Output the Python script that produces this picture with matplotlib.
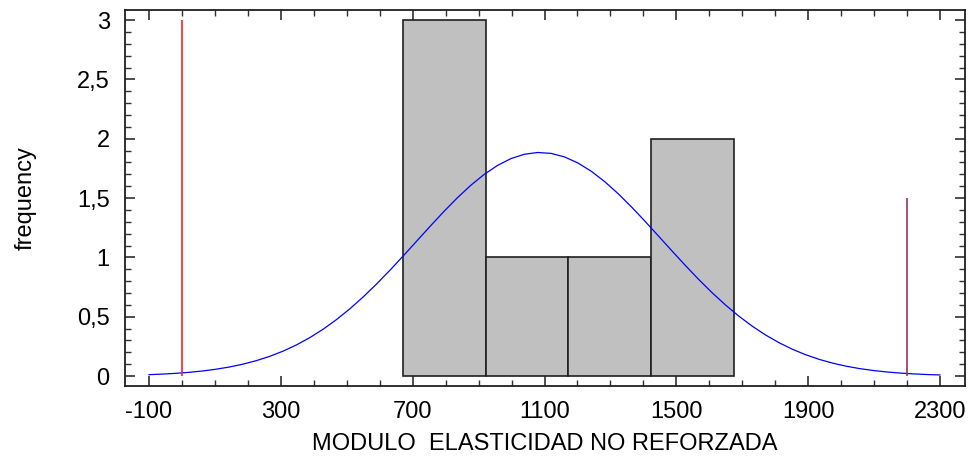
import numpy as np
import matplotlib
matplotlib.use("Agg")
import matplotlib.pyplot as plt
from matplotlib.ticker import MultipleLocator, FuncFormatter

plt.rcParams['font.family'] = ['Liberation Sans', 'DejaVu Sans']
plt.rcParams['axes.unicode_minus'] = False

# Histogram data
bin_edges = [670, 921, 1172, 1423, 1674]
counts = [3, 1, 1, 2]

# Fitted normal curve parameters
fit_mean = 1086
fit_sd = 372
n_obs = 7

# Specification / reference lines
lower_line_x = 0
lower_line_h = 3
upper_line_x = 2200
upper_line_h = 1.5

fig = plt.figure(figsize=(9.72, 4.59), dpi=100)
ax = fig.add_axes([0.1286, 0.159, 0.8642, 0.819])

widths = np.diff(bin_edges)
ax.bar(bin_edges[:-1], counts, width=widths, align='edge',
       color='#c0c0c0', edgecolor='#202020', linewidth=1.2, zorder=2)

binw = widths.mean()
xs = np.linspace(-100, 2300, 60)
ys = n_obs * binw / (fit_sd * np.sqrt(2 * np.pi)) * np.exp(-0.5 * ((xs - fit_mean) / fit_sd) ** 2)
ax.plot(xs, ys, color='#0000ff', linewidth=0.9, zorder=3)

ax.vlines(lower_line_x, 0, lower_line_h, color='#ff2020', linewidth=1.2, zorder=4)
ax.vlines(upper_line_x, 0, upper_line_h, color='#a03060', linewidth=1.2, zorder=4)

ax.set_xlim(-173, 2376)
ax.set_ylim(-0.084, 3.084)
ax.xaxis.set_major_locator(MultipleLocator(400))
ax.xaxis.set_minor_locator(MultipleLocator(100))
ax.yaxis.set_major_locator(MultipleLocator(0.5))
ax.yaxis.set_minor_locator(MultipleLocator(0.1))
ax.set_xticks([-100, 300, 700, 1100, 1500, 1900, 2300])

def yfmt(v, pos):
    return ('%g' % v).replace('.', ',')
ax.yaxis.set_major_formatter(FuncFormatter(yfmt))

ax.tick_params(which='both', direction='in', top=True, right=True,
               labelsize=17, color='#303030')
ax.tick_params(which='major', length=7, width=1.2, pad=11)
ax.tick_params(which='minor', length=4, width=1.0)

for s in ax.spines.values():
    s.set_linewidth(1.3)
    s.set_color('#202020')

ax.set_xlabel('MODULO  ELASTICIDAD NO REFORZADA', fontsize=17, labelpad=7)
ax.set_ylabel('frequency', fontsize=17, labelpad=29)

fig.savefig('out.png', dpi=100)
